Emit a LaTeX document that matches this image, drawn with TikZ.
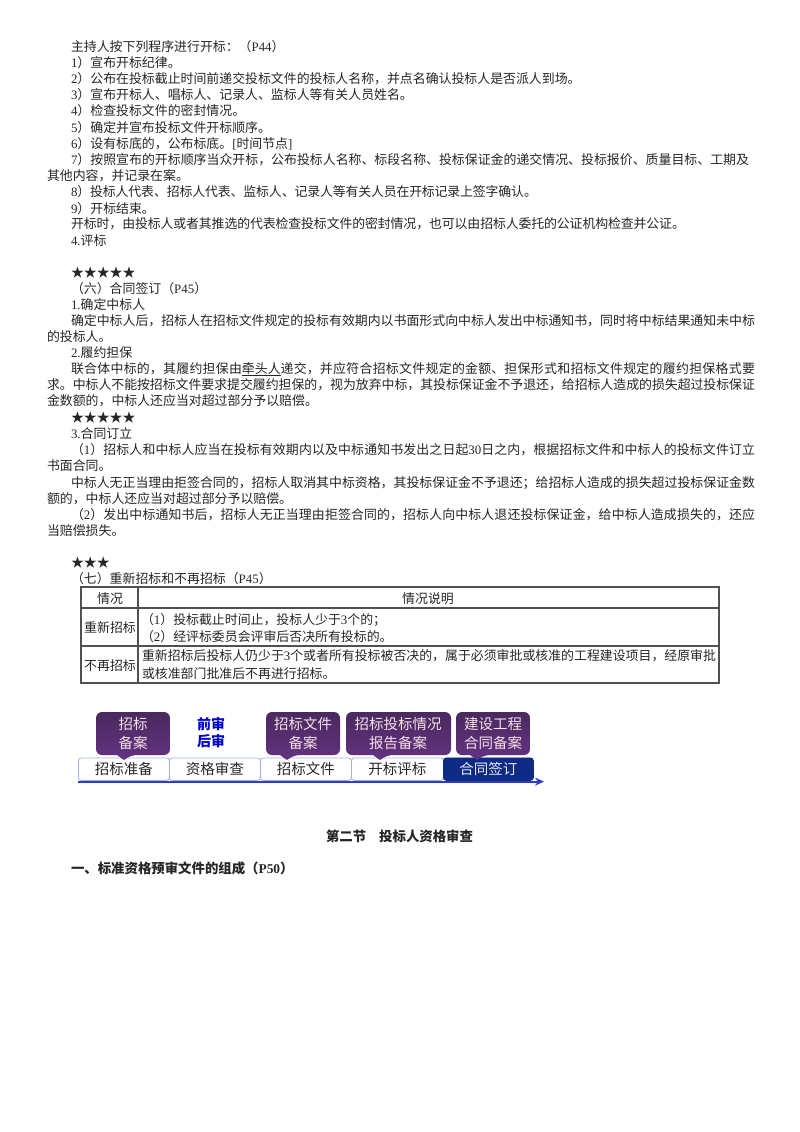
\documentclass[tikz,border=0pt]{standalone}
\usepackage{fontspec}
\usetikzlibrary{arrows.meta}
\setmainfont{Noto Sans CJK SC}
\newfontfamily\latf{Liberation Serif}
\newcommand{\lat}[1]{{\latf #1}}
\XeTeXlinebreaklocale "zh"
\XeTeXlinebreakskip=0pt plus 3pt minus 0.6pt
\newcounter{lnum}
\definecolor{ink}{HTML}{262626}
\definecolor{rulec}{HTML}{505050}
\definecolor{purtop}{HTML}{4A2A5E}
\definecolor{purbot}{HTML}{633282}
\definecolor{tabedge}{HTML}{A4B0E4}
\definecolor{flow}{HTML}{2A3CD0}
\definecolor{navy}{HTML}{0E2A82}
\tikzset{
  txt/.style={anchor=base west,inner sep=0pt,outer sep=0pt,text=ink,font=\fontsize{12.9}{14}\selectfont},
  ctxt/.style={anchor=base,inner sep=0pt,outer sep=0pt,text=ink,font=\fontsize{12.9}{14}\selectfont},
  heading/.style={txt,font=\fontsize{13.4}{14}\selectfont\bfseries},
  tabnode/.style={draw=tabedge,line width=0.8pt,rounded corners=3pt,fill=white,inner sep=0pt,anchor=north west,text=black!85,font=\fontsize{14.5}{16}\selectfont},
  bubtext/.style={inner sep=0pt,align=center,text=white!88!purple,font=\fontsize{14.5}{18.5}\selectfont},
  audit/.style={inner sep=0pt,text=blue!85!black,font=\fontsize{14}{17}\selectfont\bfseries},
  tabrule/.style={draw=rulec,line width=1.5pt}
}
% plain line
\newcommand{\pl}[3]{\stepcounter{lnum}\node[txt] (l\thelnum) at (#1,#2+5.2) {#3};}
% justified line from x1 to x2
\newcommand{\jl}[4]{\stepcounter{lnum}\pgfmathsetlengthmacro{\jw}{#3-#1}\node[txt] (l\thelnum) at (#1,#2+5.2) {\parbox[b]{\jw}{\parindent=0pt\parfillskip=0pt\relax #4}};}
\newcommand{\bubble}[3]{\shade[top color=purtop,bottom color=purbot,rounded corners=6pt]
  (#1,712) -- (#2,712) -- (#2,755) -- (#3+7,755) [sharp corners] -- (#3,760) -- (#3-7,755) [rounded corners=6pt] -- (#1,755) -- cycle;}
\begin{document}
\begin{tikzpicture}[x=1pt,y=-1pt]
\useasboundingbox (0,0) rectangle (800,1132);
\fill[white] (0,0) rectangle (800,1132);
\pl{71}{46}{主持人按下列程序进行开标：（\lat{P44}）}
\pl{71}{62}{\lat{1}）宣布开标纪律。}
\pl{71}{78}{\lat{2}）公布在投标截止时间前递交投标文件的投标人名称，并点名确认投标人是否派人到场。}
\pl{71}{94}{\lat{3}）宣布开标人、唱标人、记录人、监标人等有关人员姓名。}
\pl{71}{110}{\lat{4}）检查投标文件的密封情况。}
\pl{71}{127}{\lat{5}）确定并宣布投标文件开标顺序。}
\pl{71}{143}{\lat{6}）设有标底的，公布标底。\lat{[}时间节点\lat{]}}
\jl{71}{159}{749}{\lat{7}）按照宣布的开标顺序当众开标，公布投标人名称、标段名称、投标保证金的递交情况、投标报价、质量目标、工期及}
\pl{47}{175}{其他内容，并记录在案。}
\jl{71}{191}{537}{\lat{8}）投标人代表、招标人代表、监标人、记录人等有关人员在开标记录上签字确认。}
\pl{71}{208}{\lat{9}）开标结束。}
\jl{71}{223}{685}{开标时，由投标人或者其推选的代表检查投标文件的密封情况，也可以由招标人委托的公证机构检查并公证。}
\pl{71}{240}{\lat{4.}评标}
\pl{71}{272}{★★★★★}
\pl{71}{288}{（六）合同签订（\lat{P45}）}
\pl{71}{304}{\lat{1.}确定中标人}
\jl{71}{320}{755}{确定中标人后，招标人在招标文件规定的投标有效期内以书面形式向中标人发出中标通知书，同时将中标结果通知未中标}
\pl{47}{336}{的投标人。}
\pl{71}{352}{\lat{2.}履约担保}
\jl{71}{368}{755}{联合体中标的，其履约担保由\underline{牵头人}递交，并应符合招标文件规定的金额、担保形式和招标文件规定的履约担保格式要}
\jl{47}{384}{755}{求。中标人不能按招标文件要求提交履约担保的，视为放弃中标，其投标保证金不予退还，给招标人造成的损失超过投标保证}
\pl{47}{400}{金数额的，中标人还应当对超过部分予以赔偿。}
\pl{71}{417}{★★★★★}
\pl{71}{433}{\lat{3.}合同订立}
\jl{71}{449}{755}{（\lat{1}）招标人和中标人应当在投标有效期内以及中标通知书发出之日起\lat{30}日之内，根据招标文件和中标人的投标文件订立}
\pl{47}{465}{书面合同。}
\jl{71}{482}{755}{中标人无正当理由拒签合同的，招标人取消其中标资格，其投标保证金不予退还；给招标人造成的损失超过投标保证金数}
\pl{47}{498}{额的，中标人还应当对超过部分予以赔偿。}
\jl{71}{514}{755}{（\lat{2}）发出中标通知书后，招标人无正当理由拒签合同的，招标人向中标人退还投标保证金，给中标人造成损失的，还应}
\pl{47}{530}{当赔偿损失。}
\pl{71}{562}{★★★}
\pl{71}{578}{（七）重新招标和不再招标（\lat{P45}）}
% table
\draw[tabrule] (81,587) rectangle (719,683);
\draw[tabrule] (138,587) -- (138,683);
\draw[tabrule] (81,608) -- (719,608);
\draw[tabrule] (81,646) -- (719,646);
\node[ctxt] (h1) at (110,603) {情况};
\node[ctxt] (h2) at (428,603) {情况说明};
\node[ctxt] (c1) at (110,632) {重新招标};
\node[ctxt] (c2) at (110,670) {不再招标};
\pl{141}{619}{（\lat{1}）投标截止时间止，投标人少于\lat{3}个的；}
\pl{141}{636}{（\lat{2}）经评标委员会评审后否决所有投标的。}
\jl{142}{655}{716}{重新招标后投标人仍少于\lat{3}个或者所有投标被否决的，属于必须审批或核准的工程建设项目，经原审批}
\pl{142}{673}{或核准部门批准后不再进行招标。}
% flow
\coordinate (fs) at (78,781.6);
\coordinate (fe) at (544,781.6);
\node[tabnode,minimum width=91pt,minimum height=22.5pt] (t1) at (78,757.5) {招标准备};
\node[tabnode,minimum width=91pt,minimum height=22.5pt] (t2) at (169,757.5) {资格审查};
\node[tabnode,minimum width=91pt,minimum height=22.5pt] (t3) at (260,757.5) {招标文件};
\node[tabnode,minimum width=92pt,minimum height=22.5pt] (t4) at (351,757.5) {开标评标};
\node[tabnode,draw=navy,fill=navy,text=white!90!blue,minimum width=90pt,minimum height=22.5pt] (t5) at (443,757.5) {合同签订};
\draw[flow,line width=2pt,-{Stealth[length=9pt,width=8pt]}] (fs) -- (fe);
\bubble{96}{170}{124}
\bubble{266}{340}{287}
\bubble{346}{451}{380}
\bubble{456}{530}{477}
\node[bubtext] (b1) at (133,733.5) {招标\\备案};
\node[bubtext] (b2) at (303,733.5) {招标文件\\备案};
\node[bubtext] (b3) at (398,733.5) {招标投标情况\\报告备案};
\node[bubtext] (b4) at (493,733.5) {建设工程\\合同备案};
\node[audit] (a1) at (211,724) {前审};
\node[audit] (a2) at (211,741) {后审};
% bottom
\node[heading,anchor=base] (s1) at (399.5,841) {第二节\hspace{13pt}投标人资格审查};
\stepcounter{lnum}
\node[heading] (l\thelnum) at (71,873.2) {一、标准资格预审文件的组成（\lat{P50}）};
\end{tikzpicture}
\end{document}
